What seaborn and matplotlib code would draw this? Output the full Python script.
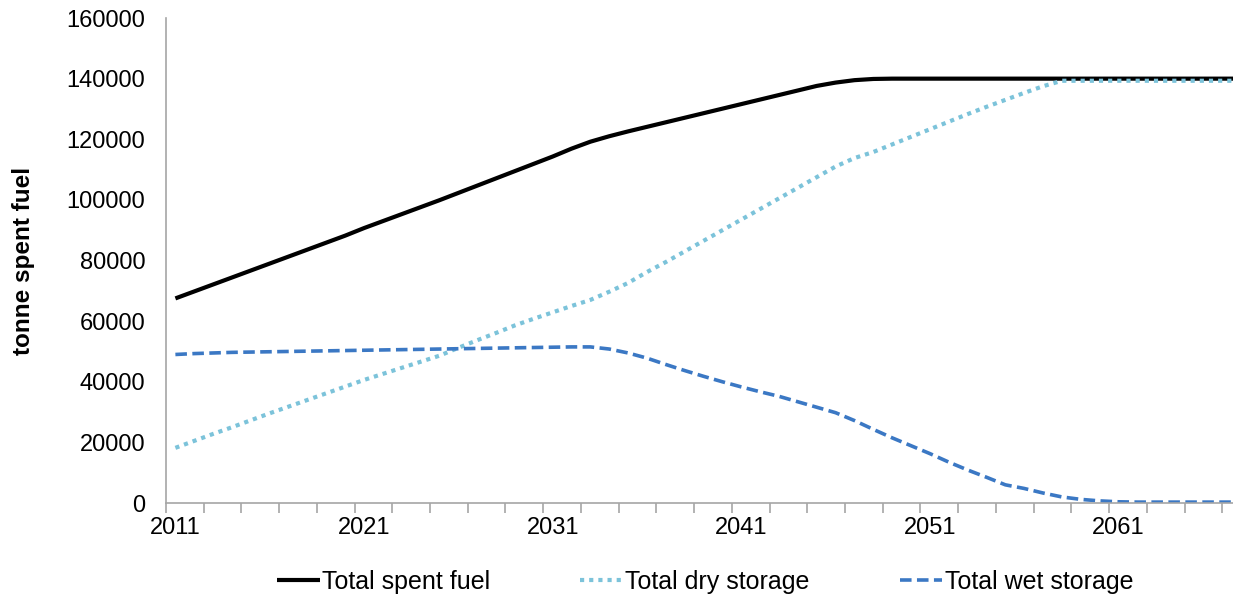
import numpy as np
import pandas as pd
import seaborn as sns
import matplotlib
matplotlib.use('Agg')
import matplotlib.pyplot as plt
from matplotlib.ticker import MultipleLocator, FixedLocator

######################################## data ########################################
years = list(range(2011, 2069))

total_spent = [67500, 69800, 72100, 74400, 76700, 79000, 81300, 83600, 85900, 88200,
               90700, 93000, 95300, 97600, 99900, 102300, 104700, 107100, 109500, 111900,
               114300, 116900, 119200, 121000, 122600, 124100, 125600, 127100, 128600, 130100,
               131600, 133100, 134600, 136100, 137600, 138700, 139500, 139900, 140000, 140000,
               140000, 140000, 140000, 140000, 140000, 140000, 140000, 140000, 140000, 140000,
               140000, 140000, 140000, 140000, 140000, 140000, 140000, 140000]

dry_storage = [18200, 20500, 22800, 25000, 27300, 29600, 31800, 34000, 36200, 38400,
               40600, 42600, 44600, 46600, 48600, 51200, 53700, 56100, 58600, 60800,
               62900, 65000, 67000, 69700, 72600, 76200, 79500, 83000, 86500, 90000,
               93500, 97000, 100500, 104000, 107500, 111000, 113800, 115800, 118300, 120800,
               123300, 125800, 128300, 130700, 133000, 135300, 137500, 139300, 139300, 139300,
               139300, 139300, 139300, 139300, 139300, 139300, 139300, 139300]

wet_storage = [49000, 49300, 49500, 49700, 49800, 49900, 50000, 50100, 50200, 50300,
               50400, 50500, 50600, 50700, 50800, 50900, 51000, 51100, 51200, 51300,
               51400, 51500, 51500, 50800, 49500, 47800, 45700, 43700, 41800, 40000,
               38300, 36700, 35200, 33400, 31600, 29800, 27200, 24300, 21500, 18900,
               16300, 13500, 10900, 8500, 6000, 4800, 3300, 2000, 1200, 700,
               400, 300, 300, 300, 300, 300, 300, 300]

labels = ['Total spent fuel', 'Total dry storage', 'Total wet storage']
colors = ['#000000', '#7CC3DA', '#3B78C4']

######################################## plot ########################################
sns.set_theme(style='white')
plt.rcParams['font.family'] = ['Liberation Sans', 'DejaVu Sans']

fig = plt.figure(figsize=(12.33, 5.95), dpi=100)
ax = fig.add_axes([0.1346, 0.1546, 0.8654, 0.8151])

df = pd.DataFrame({'year': years, 'spent': total_spent, 'dry': dry_storage, 'wet': wet_storage})

sns.lineplot(data=df, x='year', y='spent', ax=ax, color=colors[0], linewidth=3,
             label=labels[0], solid_capstyle='butt')
sns.lineplot(data=df, x='year', y='dry', ax=ax, color=colors[1], linewidth=3,
             label=labels[1], linestyle=(0, (1, 1.2)), dash_capstyle='butt')
sns.lineplot(data=df, x='year', y='wet', ax=ax, color=colors[2], linewidth=2.6,
             label=labels[2], linestyle=(0, (3.2, 1.5)), dash_capstyle='butt')

ax.set_xlim(2010.5, 2067.07)
ax.set_ylim(0, 160000)
ax.yaxis.set_major_locator(MultipleLocator(20000))
ax.xaxis.set_major_locator(FixedLocator(list(range(2011, 2067, 10))))
ax.xaxis.set_minor_locator(FixedLocator([2010.5 + 2 * i for i in range(29)]))

for side in ['top', 'right']:
    ax.spines[side].set_visible(False)
for side in ['left', 'bottom']:
    ax.spines[side].set_color('#a6a6a6')
    ax.spines[side].set_linewidth(1.2)

ax.tick_params(axis='x', which='major', length=0, pad=10, labelsize=17, labelcolor='black')
ax.tick_params(axis='x', which='minor', length=7, width=1.2, color='#a6a6a6', direction='out', bottom=True)
ax.tick_params(axis='y', which='major', length=0, pad=15, labelsize=17, labelcolor='black')

ax.set_xlabel('')
ax.set_ylabel('tonne spent fuel', fontsize=17.5, fontweight='bold', color='black')
ax.yaxis.set_label_coords(-0.123, 0.5)

ax.legend_.remove()
h, l = ax.get_legend_handles_labels()
fig.legend(h, l, loc='center', bbox_to_anchor=(0.572, 0.022), ncol=3, frameon=False,
           fontsize=18, labelcolor='black', handlelength=1.7, handletextpad=0.1,
           columnspacing=3.6)

fig.savefig('out.png', dpi=100)
